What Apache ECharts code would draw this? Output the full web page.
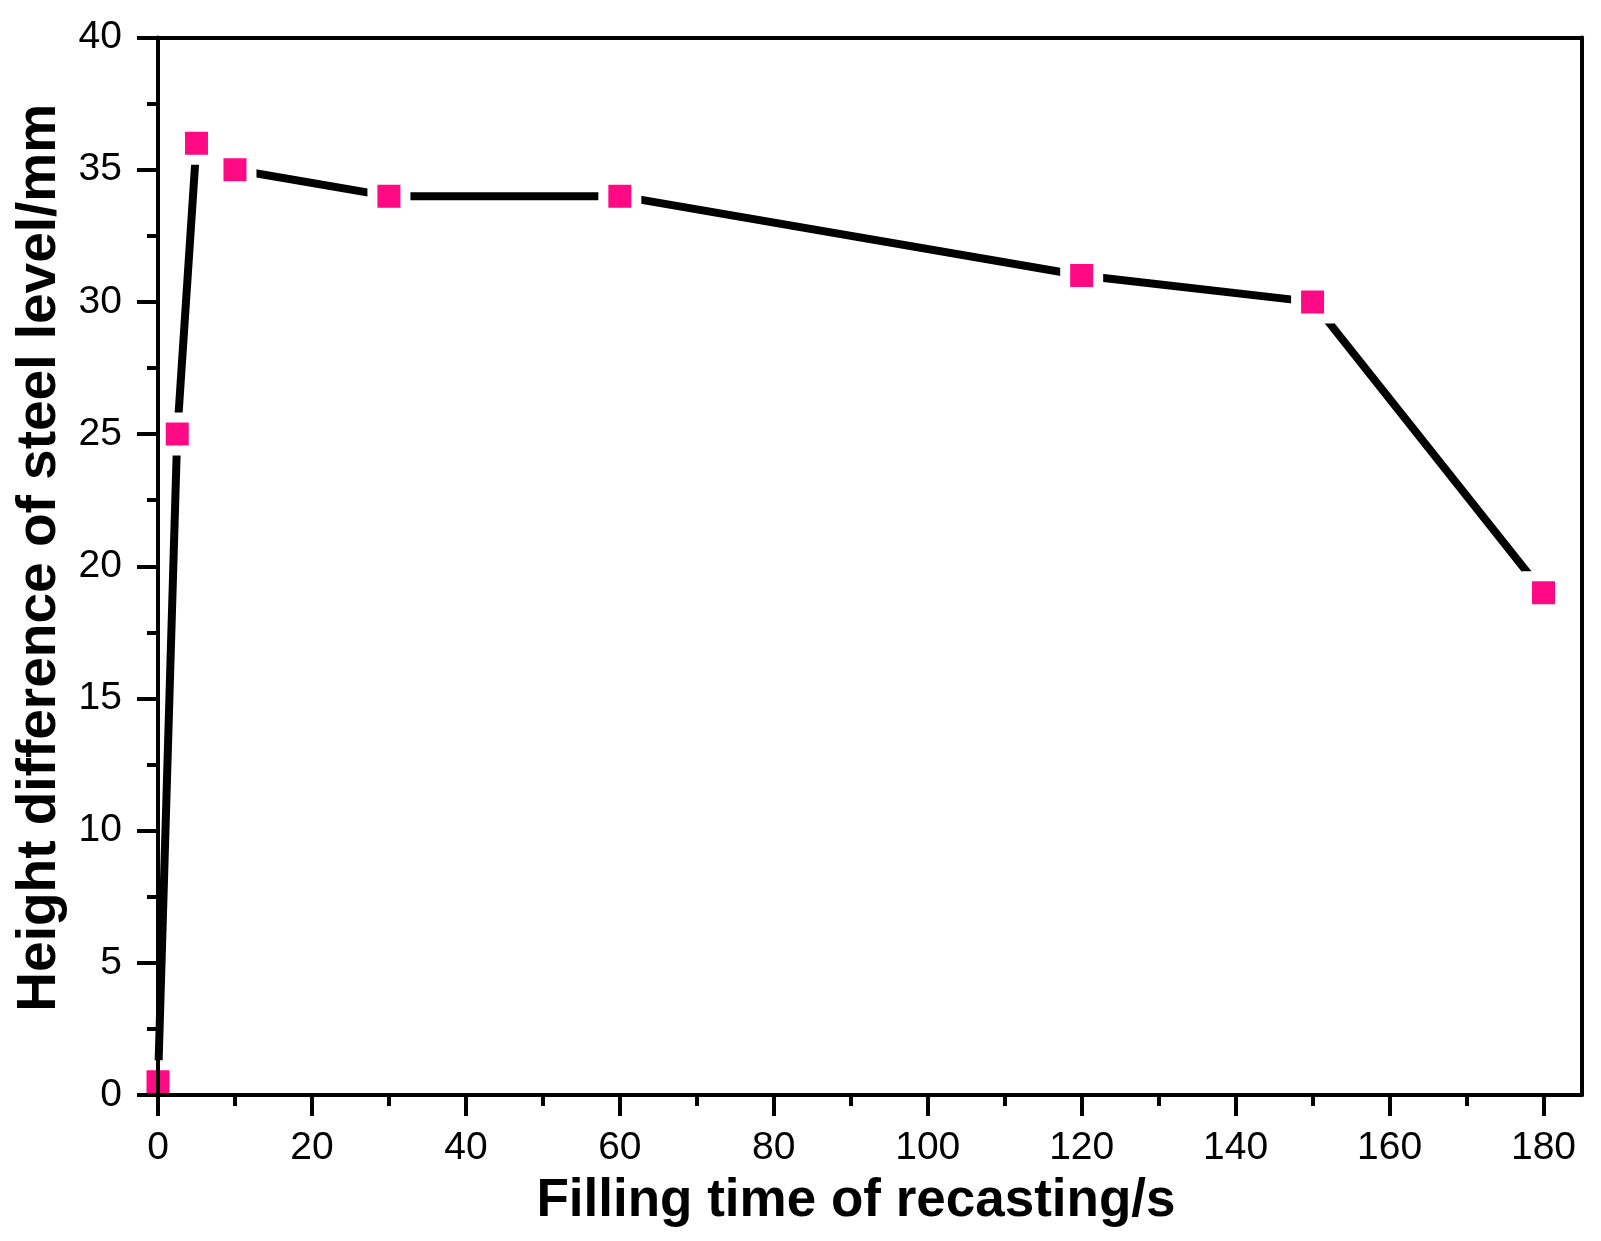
<!DOCTYPE html>
<html>
<head>
<meta charset="utf-8">
<script src="https://cdn.jsdelivr.net/npm/echarts@6/dist/echarts.min.js"></script>
<style>
  html, body { margin: 0; padding: 0; background: #fff; }
  #chart { width: 1601px; height: 1241px; }
</style>
</head>
<body>
<div id="chart"></div>
<script>
// filling time (s) and height difference (mm)
const fillTime = [0, 2.5, 5, 10, 30, 60, 120, 150, 180];
const heightDiff = [0.5, 25, 36, 35, 34, 34, 31, 30, 19];
const xMajorTicks = [0, 20, 40, 60, 80, 100, 120, 140, 160, 180];
const xMinorTicks = [10, 30, 50, 70, 90, 110, 130, 150, 170];

const font = "Liberation Sans, Arial, sans-serif";

const chart = echarts.init(document.getElementById("chart"));

chart.setOption({
  backgroundColor: "#fff",
  animation: false,
  grid: {
    left: 158,
    top: 37.5,
    width: 1424,
    height: 1057.5,
    containLabel: false
  },
  xAxis: [
    {
      type: "value",
      min: 0,
      max: 185,
      position: "bottom",
      z: 5,
      name: "Filling time of recasting/s",
      nameLocation: "middle",
      nameGap: 80,
      nameTextStyle: {
        fontFamily: font,
        fontWeight: "bold",
        fontSize: 53,
        color: "#000",
        padding: [0, 28, 0, 0]
      },
      axisLine: { show: true, onZero: false, lineStyle: { color: "#000", width: 4 } },
      axisTick: {
        show: true,
        inside: false,
        length: 21,
        customValues: xMajorTicks,
        lineStyle: { color: "#000", width: 4 }
      },
      axisLabel: {
        show: true,
        customValues: xMajorTicks,
        margin: 34,
        fontFamily: font,
        fontSize: 39,
        color: "#000"
      },
      splitLine: { show: false }
    },
    {
      // minor ticks
      type: "value",
      min: 0,
      max: 185,
      position: "bottom",
      z: 5,
      axisLine: { show: false },
      axisTick: {
        show: true,
        inside: false,
        length: 11,
        customValues: xMinorTicks,
        lineStyle: { color: "#000", width: 4 }
      },
      axisLabel: { show: false },
      splitLine: { show: false }
    },
    {
      // top frame
      type: "value",
      min: 0,
      max: 185,
      position: "top",
      z: 5,
      axisLine: { show: true, onZero: false, lineStyle: { color: "#000", width: 4 } },
      axisTick: { show: false },
      axisLabel: { show: false },
      splitLine: { show: false }
    }
  ],
  yAxis: [
    {
      type: "value",
      min: 0,
      max: 40,
      interval: 5,
      position: "left",
      z: 5,
      name: "Height difference of steel level/mm",
      nameLocation: "middle",
      nameGap: 90,
      nameTextStyle: {
        fontFamily: font,
        fontWeight: "bold",
        fontSize: 55,
        color: "#000",
        padding: [0, 0, 0, 17]
      },
      axisLine: { show: true, onZero: false, lineStyle: { color: "#000", width: 4 } },
      axisTick: {
        show: true,
        inside: false,
        length: 21,
        lineStyle: { color: "#000", width: 4 }
      },
      minorTick: {
        show: true,
        splitNumber: 2,
        length: 11,
        lineStyle: { color: "#000", width: 4 }
      },
      axisLabel: {
        margin: 36,
        fontFamily: font,
        fontSize: 39,
        color: "#000"
      },
      splitLine: { show: false },
      minorSplitLine: { show: false }
    },
    {
      // right frame
      type: "value",
      min: 0,
      max: 40,
      position: "right",
      z: 5,
      axisLine: { show: true, onZero: false, lineStyle: { color: "#000", width: 4 } },
      axisTick: { show: false },
      axisLabel: { show: false },
      splitLine: { show: false }
    }
  ],
  series: [
    {
      type: "line",
      xAxisIndex: 0,
      yAxisIndex: 0,
      z: 2,
      data: fillTime.map((t, i) => [t, heightDiff[i]]),
      clip: true,
      symbol: "rect",
      symbolSize: 33,
      lineStyle: { color: "#000", width: 8, cap: "round" },
      itemStyle: { color: "#ff0a84", borderColor: "#fff", borderWidth: 10 }
    }
  ]
});
</script>
</body>
</html>
